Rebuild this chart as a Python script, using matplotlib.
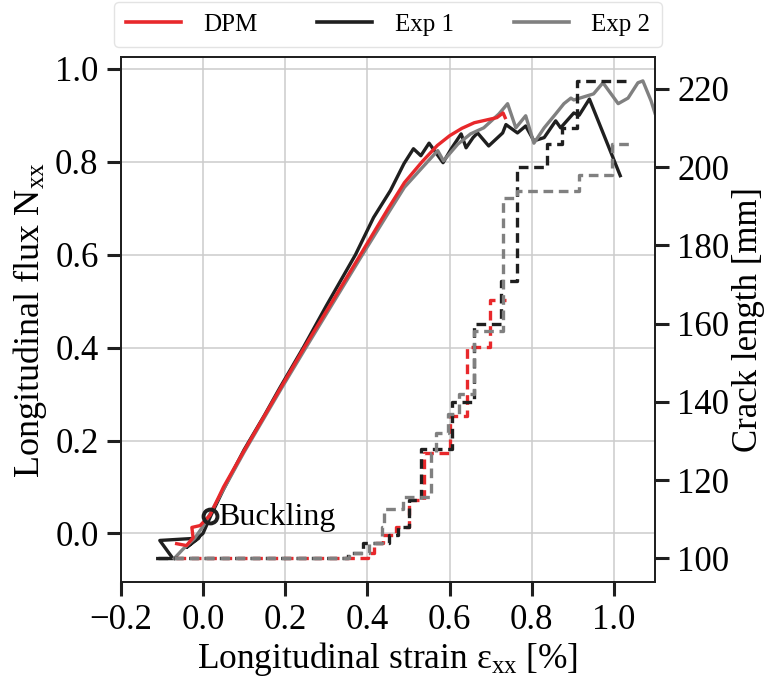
import numpy as np
import matplotlib
matplotlib.use('Agg')
import matplotlib.pyplot as plt
from matplotlib.lines import Line2D

plt.rcParams['font.family'] = ['Liberation Serif', 'DejaVu Serif']
plt.rcParams['mathtext.fontset'] = 'custom'
plt.rcParams['mathtext.rm'] = 'Liberation Serif'
plt.rcParams['mathtext.it'] = 'Liberation Serif:italic'

RED = '#e8282b'
BLACK = '#1f1f1f'
GRAY = '#808080'
LW = 2.4

# longitudinal flux vs strain
dpm_strain = [-0.064, -0.04, -0.024, -0.027, -0.007, 0.017, 0.05, 0.1, 0.188, 0.249,
              0.315, 0.383, 0.451, 0.49, 0.533, 0.57, 0.6, 0.63, 0.66, 0.69, 0.715,
              0.73, 0.735]
dpm_flux = [-0.022, -0.026, -0.009, 0.013, 0.017, 0.039, 0.1, 0.178, 0.312, 0.404,
            0.5, 0.6, 0.7, 0.755, 0.8, 0.835, 0.856, 0.872, 0.884, 0.89, 0.895,
            0.905, 0.895]

exp1_strain = [-0.11, -0.073, -0.105, -0.01, -0.04, 0.0, 0.02, 0.05, 0.1, 0.15, 0.188,
               0.244, 0.30, 0.371, 0.415, 0.456, 0.489, 0.512, 0.53, 0.55, 0.584,
               0.604, 0.628, 0.64, 0.657, 0.668, 0.695, 0.729, 0.737, 0.765, 0.785,
               0.805, 0.83, 0.858, 0.87, 0.902, 0.915, 0.94, 1.015]
exp1_flux = [-0.054, -0.054, -0.015, -0.01, -0.03, 0.0, 0.04, 0.095, 0.18, 0.255, 0.315,
             0.4, 0.49, 0.6, 0.68, 0.738, 0.796, 0.828, 0.813, 0.84, 0.798,
             0.828, 0.86, 0.83, 0.852, 0.862, 0.834, 0.862, 0.88, 0.862, 0.877,
             0.845, 0.852, 0.888, 0.873, 0.905, 0.9, 0.935, 0.77]

exp2_strain = [-0.07, -0.05, -0.02, 0.0, 0.05, 0.1, 0.188, 0.249, 0.315, 0.383, 0.451,
               0.49, 0.537, 0.571, 0.585, 0.62, 0.651, 0.683, 0.72, 0.741, 0.761,
               0.785, 0.805, 0.83, 0.858, 0.878, 0.895, 0.902, 0.95, 0.973, 1.01,
               1.034, 1.058, 1.07, 1.09, 1.1, 1.12]
exp2_flux = [-0.054, -0.035, -0.01, 0.015, 0.095, 0.175, 0.308, 0.398, 0.494, 0.593, 0.69,
             0.745, 0.791, 0.824, 0.802, 0.838, 0.86, 0.873, 0.903, 0.925, 0.873,
             0.899, 0.84, 0.873, 0.903, 0.925, 0.937, 0.933, 0.946, 0.97, 0.925,
             0.937, 0.97, 0.974, 0.931, 0.903, 0.86]

# crack length vs strain (steps)
dpm_crack_strain = [-0.065, 0.401, 0.416, 0.438, 0.47, 0.501, 0.538, 0.601, 0.643, 0.699, 0.738]
dpm_crack = [100, 101.5, 104, 106, 108, 115, 127, 136.5, 154, 166, 166]

exp1_crack_strain = [-0.11, 0.352, 0.389, 0.452, 0.474, 0.501, 0.531, 0.605, 0.66, 0.726,
                     0.763, 0.836, 0.873, 0.91, 1.037]
exp1_crack = [100, 101.5, 104, 106, 108, 115, 128, 140, 160, 171, 200, 206, 210, 222, 222]

exp2_crack_strain = [-0.07, 0.355, 0.403, 0.435, 0.44, 0.487, 0.555, 0.567, 0.597, 0.623,
                     0.66, 0.731, 0.763, 0.914, 0.995, 1.037]
exp2_crack = [100, 101.3, 104, 108, 112.5, 115.7, 127, 132, 137, 142, 158, 192, 194, 198, 206, 206]

buckling = (0.017, 0.037)

fig = plt.figure(figsize=(7.69, 6.81), dpi=100)
ax = fig.add_axes([0.157, 0.145, 0.695, 0.771])

ax.plot(exp1_strain, exp1_flux, color=BLACK, lw=LW)
ax.plot(exp2_strain, exp2_flux, color=GRAY, lw=LW)
ax.plot(dpm_strain, dpm_flux, color=RED, lw=LW)
ax.plot(*buckling, 'o', ms=10, mfc='none', mec=BLACK, mew=2.8, zorder=5)
ax.text(buckling[0] + 0.02, buckling[1] - 0.002, 'Buckling', fontsize=23,
        va='center', ha='left')

ax.set_xlim(-0.2, 1.1)
ax.set_ylim(-0.105, 1.025)
ax.set_xticks(np.arange(-0.2, 1.01, 0.2))
ax.set_yticks(np.arange(0.0, 1.01, 0.2))
ax.xaxis.set_major_formatter(plt.FuncFormatter(lambda v, p: f'{v:.1f}'.replace('-', '\u2212')))
ax.yaxis.set_major_formatter(plt.FuncFormatter(lambda v, p: f'{v:.1f}'.replace('-', '\u2212')))
ax.grid(True, color='#cccccc', lw=1.1)
ax.set_axisbelow(True)
ax.set_xlabel(r'Longitudinal strain ε$_{\mathrm{xx}}$ [%]', fontsize=25.5, labelpad=2)
ax.set_ylabel(r'Longitudinal flux N$_{\mathrm{xx}}$', fontsize=26, labelpad=4)

ax2 = ax.twinx()
dash = (2.9, 1.7)
ax2.step(dpm_crack_strain, dpm_crack, where='post', color=RED, lw=LW, ls='--', dashes=dash)
ax2.step(exp1_crack_strain, exp1_crack, where='post', color=BLACK, lw=LW, ls='--', dashes=dash)
ax2.step(exp2_crack_strain, exp2_crack, where='post', color=GRAY, lw=LW, ls='--', dashes=dash)
ax2.set_ylim(93.9, 228.1)
ax2.set_yticks(np.arange(100, 221, 20))
ax2.set_ylabel('Crack length [mm]', fontsize=25, labelpad=2)

for a in (ax, ax2):
    a.tick_params(labelsize=25, length=10, width=2.2, color=BLACK, pad=6)
    for s in a.spines.values():
        s.set_linewidth(1.3)
        s.set_color(BLACK)

handles = [Line2D([], [], color=RED, lw=2.6),
           Line2D([], [], color=BLACK, lw=2.6),
           Line2D([], [], color=GRAY, lw=2.6)]
leg = ax.legend(handles, ['DPM', 'Exp 1', 'Exp 2'], loc='lower center',
                bbox_to_anchor=(0.5, 1.019), borderaxespad=0, ncol=3, fontsize=18,
                handlelength=2.2, handletextpad=0.9, columnspacing=2.4,
                borderpad=0.45, frameon=True, fancybox=True)
leg.get_frame().set_edgecolor('#dddddd')

fig.savefig('out.png', dpi=100)
